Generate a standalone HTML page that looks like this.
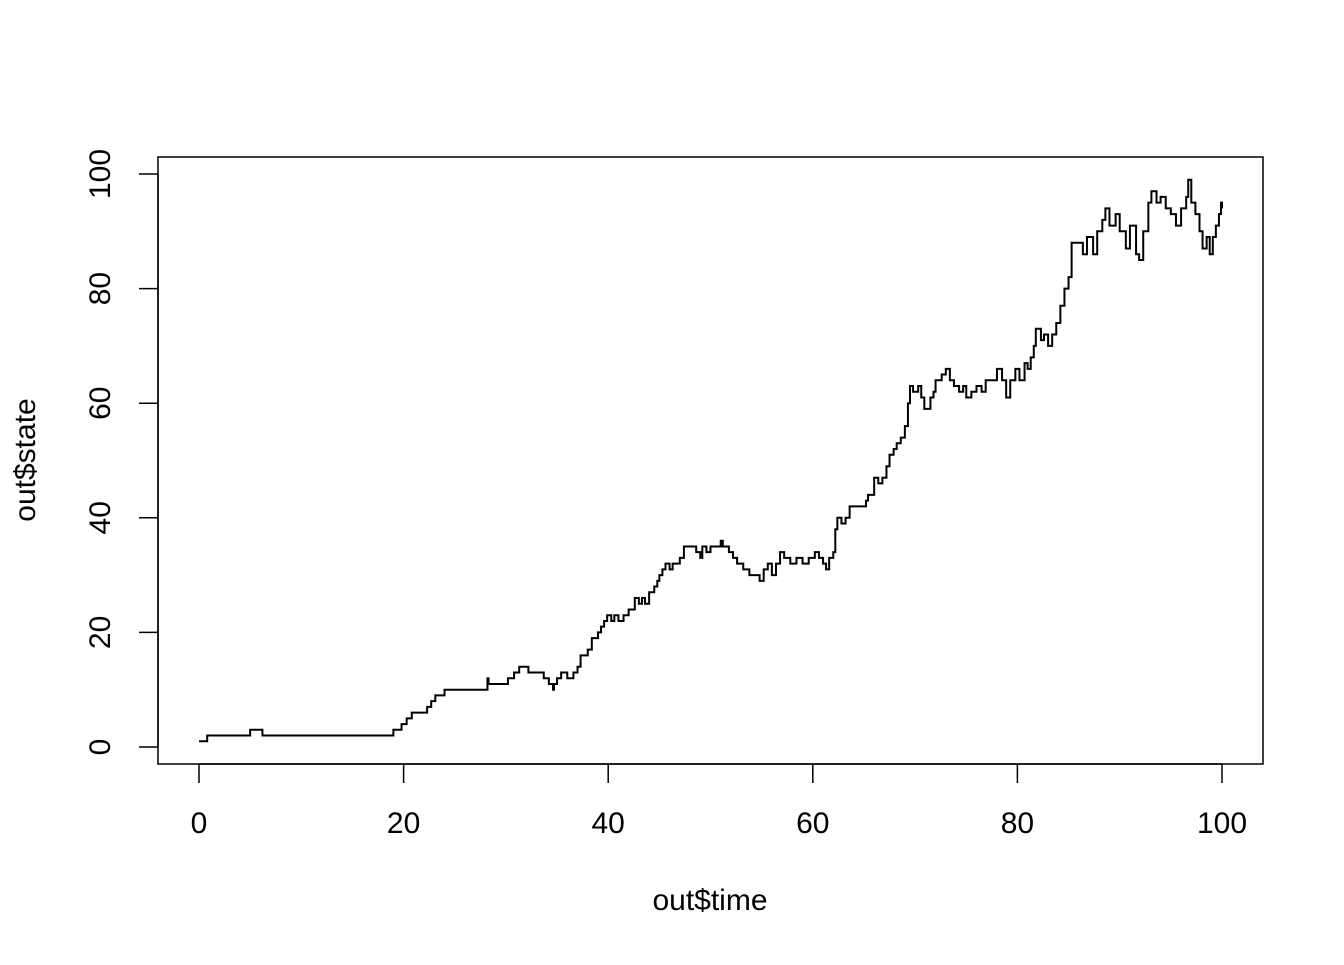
<!DOCTYPE html>
<html><head><meta charset="utf-8"><style>
html,body{margin:0;padding:0;background:#fff;}
svg text{font-family:"Liberation Sans",Arial,sans-serif;font-size:30px;fill:#000;}
</style></head><body>
<svg id="chart" width="1344" height="960">
<rect x="158" y="157" width="1105" height="607" fill="none" stroke="#000" stroke-width="1.5"/>
<g id="axes"></g>
<path id="series" fill="none" stroke="#000" stroke-width="2"/>
<text x="710" y="910" text-anchor="middle">out$time</text>
<text transform="translate(35,460) rotate(-90)" text-anchor="middle">out$state</text>
</svg>
<script>
const xTicks=[0,20,40,60,80,100];
const yTicks=[0,20,40,60,80,100];
const times=[0,0.8,5,6.2,19,19.8,20.3,20.8,22.3,22.7,23.1,24,28.2,28.3,30.2,30.8,31.3,32.2,33.7,34.2,34.6,34.7,35,35.4,36,36.6,37,37.3,38,38.4,39,39.3,39.6,39.9,40.3,40.6,41,41.5,42,42.6,43,43.3,43.6,44,44.5,44.8,45,45.3,45.6,46,46.3,47,47.4,48.6,49,49.2,49.6,50,51,51.2,51.8,52.2,52.6,53.2,53.8,54.8,55.2,55.6,56,56.4,56.8,57.2,57.8,58.4,59,59.6,60.2,60.6,61,61.3,61.6,62,62.2,62.4,62.8,63.2,63.6,65.2,65.4,66,66.4,66.8,67.2,67.5,67.9,68.2,68.6,69,69.3,69.5,69.8,70.3,70.6,70.9,71.5,71.8,72,72.6,73,73.4,73.8,74.3,74.7,75,75.5,76,76.5,76.9,78,78.5,78.9,79.3,79.8,80.2,80.7,81,81.3,81.6,81.8,82.3,82.6,83,83.4,83.8,84.2,84.6,85,85.3,85.6,86.4,86.8,87.4,87.8,88.3,88.6,89,89.6,90,90.6,91,91.6,91.9,92.3,92.8,93.1,93.6,94,94.5,95,95.5,96,96.5,96.7,97,97.4,97.8,98.1,98.5,98.8,99.1,99.4,99.7,99.9,100];
const states=[1,2,3,2,3,4,5,6,7,8,9,10,12,11,12,13,14,13,12,11,10,11,12,13,12,13,14,16,17,19,20,21,22,23,22,23,22,23,24,26,25,26,25,27,28,29,30,31,32,31,32,33,35,34,33,35,34,35,36,35,34,33,32,31,30,29,31,32,30,32,34,33,32,33,32,33,34,33,32,31,33,34,38,40,39,40,42,43,44,47,46,47,49,51,52,53,54,56,60,63,62,63,61,59,61,62,64,65,66,64,63,62,63,61,62,63,62,64,66,64,61,64,66,64,67,66,68,70,73,71,72,70,72,74,77,80,82,88,88,86,89,86,90,92,94,91,93,90,87,91,86,85,90,95,97,95,96,94,93,91,94,96,99,95,93,90,87,89,86,89,91,93,95,94];
const X=v=>199+v*10.23, Y=v=>747-v*5.73;
const g=document.getElementById('axes');
const NS='http://www.w3.org/2000/svg';
function mk(t,a){const e=document.createElementNS(NS,t);for(const k in a)e.setAttribute(k,a[k]);g.appendChild(e);return e;}
mk('line',{x1:X(xTicks[0]),x2:X(xTicks[xTicks.length-1]),y1:764,y2:764,stroke:'#000','stroke-width':1.5});
xTicks.forEach(v=>{
 const l=mk('line',{x1:X(v),x2:X(v),y1:764,y2:783,stroke:'#000','stroke-width':1.5});
 
 
 const t=mk('text',{x:X(v),y:833,'text-anchor':'middle'});t.textContent=v;
 
 
});
mk('line',{x1:158,x2:158,y1:Y(yTicks[0]),y2:Y(yTicks[yTicks.length-1]),stroke:'#000','stroke-width':1.5});
yTicks.forEach(v=>{
 const l=mk('line',{x1:139,x2:158,y1:Y(v),y2:Y(v),stroke:'#000','stroke-width':1.5});
 
 
 const t=mk('text',{transform:`translate(110,${Y(v)}) rotate(-90)`,'text-anchor':'middle'});t.textContent=v;
 
 
});
let d='M'+X(times[0])+','+Y(states[0]);
for(let i=1;i<times.length;i++){d+=' H'+X(times[i])+' V'+Y(states[i]);}
document.getElementById('series').setAttribute('d',d);
</script>
</body></html>
